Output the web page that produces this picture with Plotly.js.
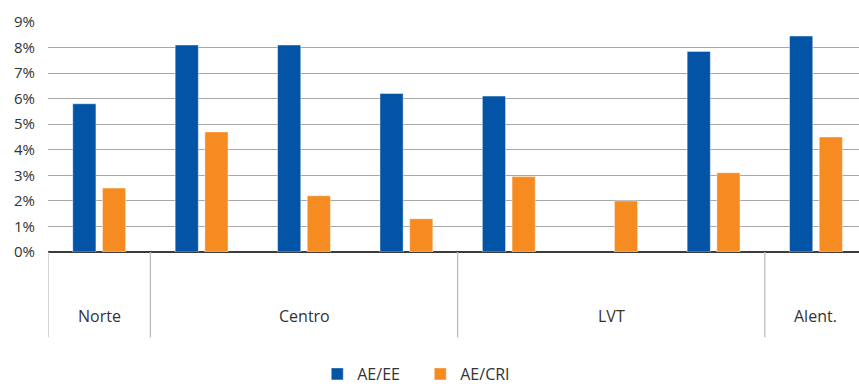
<!DOCTYPE html>
<html>
<head>
<meta charset="utf-8">
<script src="https://cdn.plot.ly/plotly-3.0.1.min.js"></script>
<style>
  html, body { margin: 0; padding: 0; background: #ffffff; }
  #chart { width: 859px; height: 391px; }
</style>
</head>
<body>
<div id="chart"></div>
<script>
// Region of each bar pair, and a unique slot id per pair
const regions = ['Norte', 'Centro', 'Centro', 'Centro', 'LVT', 'LVT', 'LVT', 'Alent.'];
const slots = ['N1', 'C1', 'C2', 'C3', 'L1', 'L2', 'L3', 'A1'];

// Ratios, in percent
const aeEE = [5.8, 8.1, 8.1, 6.2, 6.1, null, 7.85, 8.45];
const aeCRI = [2.5, 4.7, 2.2, 1.3, 2.95, 2.0, 3.1, 4.5];

const seriesNames = ['AE/EE', 'AE/CRI'];
const yTicks = [0, 1, 2, 3, 4, 5, 6, 7, 8, 9];

const BLUE = '#0354a6';
const ORANGE = '#f58b21';
const FONT = '"Open Sans", "Noto Sans", sans-serif';

const traces = [
  {
    type: 'bar', name: seriesNames[0], x: slots, y: aeEE,
    marker: { color: BLUE, line: { color: 'rgba(255,255,255,0.55)', width: 0.8 } },
    hoverinfo: 'skip'
  },
  {
    type: 'bar', name: seriesNames[1], x: slots, y: aeCRI,
    marker: { color: ORANGE, line: { color: 'rgba(255,255,255,0.55)', width: 0.8 } },
    hoverinfo: 'skip'
  }
];

// Group dividers and labels below the axis, derived from the region list
const shapes = [];
const annotations = [];
let start = 0;
for (let i = 1; i <= regions.length; i++) {
  if (i === regions.length || regions[i] !== regions[start]) {
    shapes.push({
      type: 'line', xref: 'x', yref: 'paper',
      x0: start - 0.5, x1: start - 0.5, y0: 0, y1: -0.371,
      line: { color: '#bdbdbd', width: 1.3 }
    });
    annotations.push({
      xref: 'x', yref: 'paper', x: (start + i - 1) / 2, y: -0.278,
      xanchor: 'center', yanchor: 'middle', showarrow: false,
      text: regions[start],
      font: { family: FONT, size: 16, color: '#333333' }
    });
    start = i;
  }
}
// closing divider for the last group is off to the right, so only inner ones are drawn

const layout = {
  width: 859, height: 391,
  margin: { l: 48, r: 0, t: 22, b: 138, pad: 0 },
  paper_bgcolor: '#ffffff', plot_bgcolor: '#ffffff',
  barmode: 'group', bargap: 0.42, bargroupgap: 0.22,
  showlegend: true,
  legend: {
    orientation: 'h', x: 0.332, xanchor: 'left', y: -0.53, yanchor: 'middle',
    font: { family: FONT, size: 16, color: '#333333' },
    entrywidth: 58, entrywidthmode: 'pixels', itemwidth: 30,
    bgcolor: 'rgba(0,0,0,0)', traceorder: 'normal'
  },
  xaxis: {
    type: 'category', categoryorder: 'array', categoryarray: slots,
    range: [-0.5, 7.42],
    showticklabels: false, showgrid: false, zeroline: false, showline: false, ticks: ''
  },
  yaxis: {
    range: [0, 9], tickvals: yTicks, ticktext: yTicks.map(v => v + '%'),
    showgrid: true, gridcolor: '#a8a8a8', gridwidth: 1,
    zeroline: true, zerolinecolor: '#3c3c3c', zerolinewidth: 1.6,
    showline: false, ticks: '', ticklabelstandoff: 12,
    tickfont: { family: FONT, size: 15, color: '#333333' }
  },
  shapes: shapes,
  annotations: annotations,
  font: { family: FONT }
};

Plotly.newPlot('chart', traces, layout, { displayModeBar: false, staticPlot: true });
</script>
</body>
</html>
